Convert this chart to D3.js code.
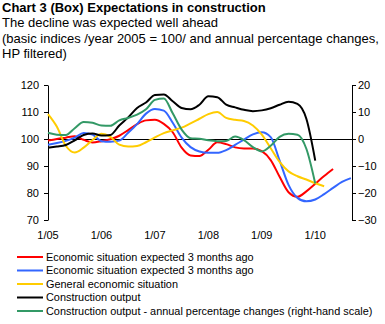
<!DOCTYPE html>
<html>
<head>
<meta charset="utf-8">
<script src="https://cdn.jsdelivr.net/npm/d3@7"></script>
<style>
  body { margin: 0; background: #fff; }
  svg { display: block; font-family: Arial, "Liberation Sans", sans-serif; }
</style>
</head>
<body>
<svg id="chart" width="385" height="324"></svg>
<script>
// Title lines as printed above the chart
const titleLines = [
  "Chart 3 (Box) Expectations in construction",
  "The decline was expected well ahead",
  "(basic indices /year 2005 = 100/ and annual percentage changes,",
  "HP filtered)"
];

// Months counted from 1/2005, one value every two months
const months = d3.range(0, 69, 2);
const yearTicks = [0, 12, 24, 36, 48, 60];
const yearLabels = ["1/05", "1/06", "1/07", "1/08", "1/09", "1/10"];

// Left scale, index 2005 = 100
const expectedRed = [99.4, 100, 100.5, 101, 99.7, 98.7, 99.2, 99.9, 101.2, 103.3, 105.5, 106.9, 107.1, 105.6, 102.5, 96.8, 93.9, 93.7, 96, 98.8, 98.1, 96.9, 96.5, 96.5, 95.5, 92.2, 86, 80.3, 78.6, 80.6, 83.4, 86.3, 88.9, null, null];
const expectedBlue = [97.9, 98.5, 99.3, 100.5, 102.2, 101.6, 99.2, 99, 99.4, 102.3, 105.5, 109.4, 111.1, 110.5, 106, 100.5, 97, 95.4, 94.9, 94.9, 95.9, 97.8, 99.8, 101.7, 102.5, 100.7, 92, 83, 78.2, 76.9, 77.6, 79.6, 81.9, 84.1, 85.5];
const generalSituation = [109.2, 104.5, 97.5, 95, 96.8, 99.6, 101.9, 100.8, 97.9, 97.2, 97.4, 98.8, 100.6, 102.2, 103.2, 104.2, 105.8, 107.5, 109.2, 110, 107.8, 107.1, 106.7, 105, 101.6, 96.6, 91.5, 88, 86.2, 85, 83.6, 82.5, null, null, null];
const constructionOutput = [96.8, 97.2, 97.8, 99.5, 101.5, 102, 101.3, 101.5, 105, 108, 111.5, 113.5, 116.3, 116.5, 114, 111.5, 111, 112.7, 115.8, 115.5, 112.7, 111.7, 110.8, 110.3, 110.6, 111.4, 112.7, 113.8, 113, 107.5, 92, null, null, null, null];
// Right scale, annual % change
const outputChange = [2.3, 1.6, 1.5, 4, 6.3, 6, 5, 4.9, 6.9, 7.8, 9, 11, 14.5, 15, 9.5, 3.5, 0.3, 0.1, -0.5, -0.8, -0.7, 0.9, -0.4, -3, -4.6, -2.5, 0.8, 1.9, 1.6, -3.6, -16.5, null, null, null, null];

const leftTicks = [70, 80, 90, 100, 110, 120];
const rightTicks = [-30, -20, -10, 0, 10, 20];

const series = [
  { name: "Economic situation expected 3 months ago", values: expectedRed, color: "#ff0000", axis: "left" },
  { name: "Economic situation expected 3 months ago", values: expectedBlue, color: "#3366ff", axis: "left" },
  { name: "General economic situation", values: generalSituation, color: "#ffcc00", axis: "left" },
  { name: "Construction output", values: constructionOutput, color: "#000000", axis: "left" },
  { name: "Construction output - annual percentage changes (right-hand scale)", values: outputChange, color: "#339966", axis: "right" }
];

const svg = d3.select("#chart");

// Title block
svg.append("g")
  .selectAll("text")
  .data(titleLines)
  .join("text")
    .attr("x", 2)
    .attr("y", (d, i) => 12 + i * 15.3)
    .attr("font-size", 13)
    .attr("font-weight", (d, i) => i === 0 ? "bold" : "normal")
    .attr("fill", "#000")
    .text(d => d);

// Scales
const plot = { left: 48, right: 352, top: 85, bottom: 220 };
const x = d3.scaleLinear().domain([0, 68.25]).range([plot.left, plot.right]);
const yLeft = d3.scaleLinear().domain([70, 120]).range([plot.bottom, plot.top]);
const yRight = d3.scaleLinear().domain([-30, 20]).range([plot.bottom, plot.top]);

// Left axis
const leftAxis = svg.append("g")
  .attr("transform", `translate(${plot.left},0)`)
  .call(d3.axisLeft(yLeft).tickValues(leftTicks).tickSize(4).tickPadding(5).tickSizeOuter(0));

// Right axis
const rightAxis = svg.append("g")
  .attr("transform", `translate(${plot.right},0)`)
  .call(d3.axisRight(yRight).tickValues(rightTicks).tickSize(4).tickPadding(2).tickSizeOuter(0));

[leftAxis, rightAxis].forEach(g => {
  g.select(".domain").attr("stroke", "#000");
  g.selectAll(".tick line").attr("stroke", "#000");
  g.selectAll("text").attr("font-size", 11).attr("font-family", "Arial, 'Liberation Sans', sans-serif").attr("fill", "#000");
});

// Zero line (100 on left / 0 on right)
svg.append("line")
  .attr("x1", plot.left)
  .attr("x2", plot.right)
  .attr("y1", yLeft(100))
  .attr("y2", yLeft(100))
  .attr("stroke", "#000")
  .attr("stroke-width", 1)
  .attr("shape-rendering", "crispEdges");

// Year labels below the plot
svg.append("g")
  .selectAll("text")
  .data(yearTicks)
  .join("text")
    .attr("x", d => x(d))
    .attr("y", 239)
    .attr("text-anchor", "middle")
    .attr("font-size", 11)
    .attr("fill", "#000")
    .text((d, i) => yearLabels[i]);

// Lines
svg.append("g")
  .selectAll("path")
  .data(series)
  .join("path")
    .attr("fill", "none")
    .attr("stroke", d => d.color)
    .attr("stroke-width", 2)
    .attr("stroke-linejoin", "round")
    .attr("d", d => {
      const y = d.axis === "left" ? yLeft : yRight;
      const pts = months.map((m, i) => [m, d.values[i]]).filter(p => p[1] !== null);
      return d3.line()
        .x(p => x(p[0]))
        .y(p => y(p[1]))
        .curve(d3.curveMonotoneX)(pts);
    });

// Legend
const legend = svg.append("g")
  .selectAll("g")
  .data(series)
  .join("g")
    .attr("transform", (d, i) => `translate(0,${257 + i * 13.5})`);

legend.append("line")
  .attr("x1", 17)
  .attr("x2", 43)
  .attr("stroke", d => d.color)
  .attr("stroke-width", 2);

legend.append("text")
  .attr("x", 46)
  .attr("y", 0)
  .attr("dy", "0.35em")
  .attr("font-size", 10.9)
  .attr("fill", "#000")
  .text(d => d.name);
</script>
</body>
</html>
